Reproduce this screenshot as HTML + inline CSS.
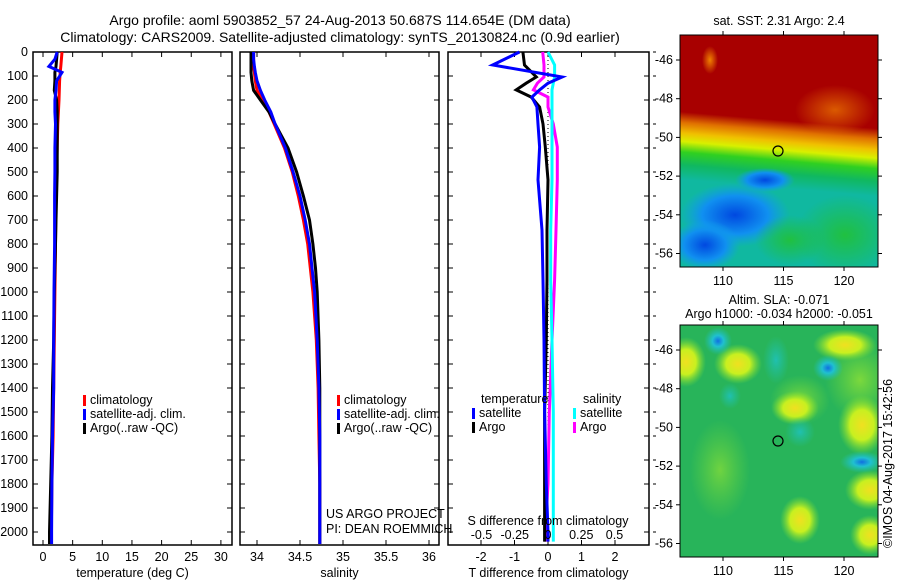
<!DOCTYPE html>
<html><head><meta charset="utf-8">
<style>
html,body{margin:0;padding:0;background:#fff;}
svg{display:block;font-family:"Liberation Sans",sans-serif;}
text{font-size:12.5px;fill:#000;}
</style></head>
<body>
<svg id="chart" width="900" height="580" viewBox="0 0 900 580">
<defs>
<linearGradient id="sstGrad" gradientUnits="userSpaceOnUse" x1="782" y1="40" x2="764" y2="250">
<stop offset="0" stop-color="#a80000"/>
<stop offset="0.38" stop-color="#a80000"/>
<stop offset="0.43" stop-color="#e07000"/>
<stop offset="0.48" stop-color="#f0c000"/>
<stop offset="0.52" stop-color="#d8f000"/>
<stop offset="0.57" stop-color="#30d020"/>
<stop offset="0.63" stop-color="#10b860"/>
<stop offset="0.70" stop-color="#10b8a0"/>
<stop offset="1" stop-color="#10b8a0"/>
</linearGradient>
<radialGradient id="blueBlob"><stop offset="0" stop-color="#0048e0"/><stop offset="0.6" stop-color="#1090f0"/><stop offset="1" stop-color="#10a0e8" stop-opacity="0"/></radialGradient>
<radialGradient id="greenBlob"><stop offset="0" stop-color="#20c040"/><stop offset="1" stop-color="#20c040" stop-opacity="0"/></radialGradient>
<radialGradient id="orBlob"><stop offset="0" stop-color="#f08000"/><stop offset="1" stop-color="#f08000" stop-opacity="0"/></radialGradient>
<radialGradient id="yelBlob"><stop offset="0" stop-color="#f0e020"/><stop offset="0.5" stop-color="#c8f020"/><stop offset="1" stop-color="#80e030" stop-opacity="0"/></radialGradient>
<radialGradient id="ygBlob"><stop offset="0" stop-color="#a0e830"/><stop offset="1" stop-color="#80e030" stop-opacity="0"/></radialGradient>
<radialGradient id="cyBlob"><stop offset="0" stop-color="#1070e0"/><stop offset="0.4" stop-color="#20c0d0"/><stop offset="1" stop-color="#20c0b0" stop-opacity="0"/></radialGradient>
<radialGradient id="tealBlob"><stop offset="0" stop-color="#20c0b0"/><stop offset="1" stop-color="#20c0a0" stop-opacity="0"/></radialGradient>
<clipPath id="clipTop"><rect x="680" y="35" width="198" height="232"/></clipPath>
<clipPath id="clipBot"><rect x="680" y="325" width="198" height="232"/></clipPath>
</defs>

<text x="340" y="25" text-anchor="middle" style="font-size:14px">Argo profile: aoml 5903852_57 24-Aug-2013 50.687S 114.654E (DM data)</text>
<text x="340" y="42" text-anchor="middle" style="font-size:14px">Climatology: CARS2009. Satellite-adjusted climatology: synTS_20130824.nc (0.9d earlier)</text>

<g id="panels"></g>

<g>
<text x="779" y="25" text-anchor="middle">sat. SST: 2.31 Argo: 2.4</text>
<g clip-path="url(#clipTop)">
<rect x="680" y="35" width="198" height="232" fill="url(#sstGrad)"/>
<ellipse cx="735" cy="215" rx="55" ry="32" fill="url(#blueBlob)"/>
<ellipse cx="705" cy="245" rx="35" ry="25" fill="url(#blueBlob)"/>
<ellipse cx="765" cy="180" rx="30" ry="12" fill="url(#blueBlob)"/>
<ellipse cx="845" cy="235" rx="50" ry="40" fill="url(#greenBlob)"/>
<ellipse cx="790" cy="240" rx="35" ry="25" fill="url(#greenBlob)"/>
<ellipse cx="835" cy="110" rx="40" ry="25" fill="url(#orBlob)" opacity="0.7"/>
<ellipse cx="710" cy="60" rx="8" ry="14" fill="url(#orBlob)"/>
</g>
<rect x="680" y="35" width="198" height="232" fill="none" stroke="#000"/>
<circle cx="778" cy="151" r="5" fill="none" stroke="#000" stroke-width="1.2"/>
</g>

<g>
<text x="779" y="304" text-anchor="middle">Altim. SLA: -0.071</text>
<text x="779" y="318" text-anchor="middle">Argo h1000: -0.034 h2000: -0.051</text>
<g clip-path="url(#clipBot)">
<rect x="680" y="325" width="198" height="232" fill="#28b45a"/>
<ellipse cx="720" cy="470" rx="30" ry="50" fill="url(#ygBlob)" opacity="0.6"/>
<ellipse cx="860" cy="380" rx="35" ry="40" fill="url(#ygBlob)" opacity="0.7"/>
<ellipse cx="800" cy="400" rx="30" ry="25" fill="url(#ygBlob)" opacity="0.7"/>
<ellipse cx="686" cy="362" rx="20" ry="25" fill="url(#yelBlob)"/>
<ellipse cx="738" cy="364" rx="24" ry="20" fill="url(#yelBlob)"/>
<ellipse cx="795" cy="408" rx="24" ry="17" fill="url(#yelBlob)"/>
<ellipse cx="862" cy="425" rx="24" ry="30" fill="url(#yelBlob)"/>
<ellipse cx="870" cy="490" rx="25" ry="20" fill="url(#yelBlob)"/>
<ellipse cx="800" cy="520" rx="20" ry="24" fill="url(#yelBlob)"/>
<ellipse cx="870" cy="535" rx="20" ry="20" fill="url(#yelBlob)"/>
<ellipse cx="845" cy="345" rx="32" ry="16" fill="url(#yelBlob)"/>
<ellipse cx="718" cy="341" rx="14" ry="14" fill="url(#cyBlob)"/>
<ellipse cx="776" cy="360" rx="13" ry="24" fill="url(#tealBlob)"/>
<ellipse cx="828" cy="368" rx="15" ry="13" fill="url(#cyBlob)"/>
<ellipse cx="730" cy="396" rx="11" ry="13" fill="url(#tealBlob)"/>
<ellipse cx="800" cy="432" rx="15" ry="15" fill="url(#tealBlob)"/>
<ellipse cx="862" cy="462" rx="22" ry="11" fill="url(#cyBlob)"/>
</g>
<rect x="680" y="325" width="198" height="232" fill="none" stroke="#000"/>
<circle cx="778" cy="441" r="5" fill="none" stroke="#000" stroke-width="1.2"/>
<text transform="translate(892,548) rotate(-90)">©IMOS 04-Aug-2017 15:42:56</text>
</g>
<g id="mapaxes"></g>
</svg>

<script>
const depthTicks = [0,100,200,300,400,500,600,700,800,900,1000,1100,1200,1300,1400,1500,1600,1700,1800,1900,2000];
const tempTicks = [0,5,10,15,20,25,30];
const salTicks = [34,34.5,35,35.5,36];
const tdiffTicks = [-2,-1,0,1,2];
const sdiffTickLabels = ["-0.5","-0.25","0","0.25","0.5"];
const sdiffTicks = [-0.5,-0.25,0,0.25,0.5];

const profDepth = [0,30,60,85,120,160,200,250,300,400,500,600,700,800,900,1000,1200,1400,1600,1800,2000,2050];
const tempClim = [3.2,3.1,3.0,2.9,2.8,2.75,2.7,2.6,2.5,2.4,2.3,2.2,2.15,2.1,2.05,2.0,1.9,1.8,1.7,1.5,1.4,1.35];
const tempSat  = [2.4,2.0,1.0,3.2,2.3,2.2,2.0,2.0,2.1,2.0,2.0,1.95,1.95,1.95,1.9,1.85,1.8,1.8,1.6,1.5,1.45,1.45];
const tempArgo = [2.4,2.3,2.2,2.0,2.0,1.9,2.3,2.4,2.4,2.4,2.4,2.3,2.2,2.1,2.0,1.9,1.8,1.6,1.5,1.3,1.1,1.1];
const salClim = [33.96,33.96,33.96,33.97,33.98,34.0,34.06,34.14,34.2,34.32,34.41,34.48,34.54,34.59,34.62,34.65,34.69,34.71,34.72,34.73,34.73,34.73];
const salSat  = [33.96,33.96,33.97,33.98,34.0,34.04,34.09,34.16,34.21,34.33,34.42,34.5,34.56,34.61,34.64,34.67,34.7,34.72,34.73,34.73,34.73,34.73];
const salArgo = [33.93,33.93,33.93,33.93,33.94,33.96,34.04,34.14,34.21,34.36,34.46,34.54,34.61,34.65,34.68,34.7,34.72,34.73,34.73,34.73,34.73,34.73];

const diffDepth = [0,54,104,130,158,188,229,300,396,533,742,950,1200,1500,1800,2000,2040];
const tdiffSat  = [-0.85,-1.65,0.42,0.0,-0.25,-0.48,-0.33,-0.3,-0.25,-0.3,-0.18,-0.15,-0.12,-0.1,-0.05,0.0,0.0];
const tdiffArgo = [-0.75,-0.7,-0.35,-0.65,-0.95,-0.5,-0.25,-0.15,-0.08,0.0,-0.03,-0.03,-0.05,-0.1,-0.1,-0.1,-0.1];
const sdiffSat  = [0.0,0.05,0.05,0.04,0.03,0.03,0.03,0.03,0.03,0.03,0.02,0.02,0.03,0.04,0.04,0.04,0.04];
const sdiffArgo = [-0.04,-0.03,-0.03,-0.08,-0.11,0.0,0.0,0.04,0.07,0.07,0.06,0.05,0.03,0.01,0.0,-0.02,-0.02];

const latTicks = [-46,-48,-50,-52,-54,-56];
const lonTicks = [110,115,120];

const NS = "http://www.w3.org/2000/svg";
const root = document.getElementById('panels');
function mk(tag, attrs, parent){
  const e = document.createElementNS(NS, tag);
  for (const k in attrs) e.setAttribute(k, attrs[k]);
  (parent||root).appendChild(e);
  return e;
}
const PY0 = 52, PY1 = 545;
const yOf = d => PY0 + d * 0.24;

function panel(name, x0, x1, xOf, ticks, tickLabels, axisTitle){
  const g = mk('g', {});
  
  
  const r = mk('rect', {x:x0, y:PY0, width:x1-x0, height:PY1-PY0, fill:'none', stroke:'#000', 'stroke-width':1.5}, g);
  
  
  ticks.forEach((t,i) => {
    const x = xOf(t);
    mk('line', {x1:x, x2:x, y1:PY1, y2:PY1-5, stroke:'#000'}, g);
    mk('line', {x1:x, x2:x, y1:PY0, y2:PY0+5, stroke:'#000'}, g);
    const tx = mk('text', {x:x, y:561, 'text-anchor':'middle'}, g);
    tx.textContent = tickLabels[i];
    
    
  });
  depthTicks.forEach(d => {
    mk('line', {x1:x0, x2:x0+5, y1:yOf(d), y2:yOf(d), stroke:'#000'}, g);
    mk('line', {x1:x1, x2:x1-5, y1:yOf(d), y2:yOf(d), stroke:'#000'}, g);
  });
  const at = mk('text', {x:(x0+x1)/2, y:577, 'text-anchor':'middle'}, g);
  at.textContent = axisTitle;
  
  
  return g;
}
function series(g, name, vals, depths, xOf, color){
  const pts = vals.map((v,i) => xOf(v).toFixed(1) + ',' + yOf(depths[i]).toFixed(1)).join(' ');
  const p = mk('polyline', {points:pts, fill:'none', stroke:color, 'stroke-width':3, 'stroke-linejoin':'miter'}, g);
  
  
}
function legend(g, name, x, y, color, label){
  const r = mk('rect', {x:x, y:y-9, width:3, height:11, fill:color}, g);
  
  
  const t = mk('text', {x:x+7, y:y}, g);
  t.textContent = label;
  
  
}

depthTicks.forEach(d => {
  const t = mk('text', {x:28, y:yOf(d)+4, 'text-anchor':'end'});
  t.textContent = d;
  
  
});

const xT = v => 43 + v * 5.93;
const g1 = panel('temperature-panel', 33, 232, xT, tempTicks, tempTicks.map(String), 'temperature (deg C)');
series(g1, 'temp-climatology-line', tempClim, profDepth, xT, '#ff0000');
series(g1, 'temp-argo-line', tempArgo, profDepth, xT, '#000000');
series(g1, 'temp-satellite-line', tempSat, profDepth, xT, '#0000ff');
legend(g1, 'legend-climatology', 83, 404, '#ff0000', 'climatology');
legend(g1, 'legend-satellite-adj', 83, 418, '#0000ff', 'satellite-adj. clim.');
legend(g1, 'legend-argo', 83, 432, '#000000', 'Argo(..raw -QC)');

const xS = v => 257 + (v - 34) * 86;
const g2 = panel('salinity-panel', 240, 439, xS, salTicks, salTicks.map(String), 'salinity');
series(g2, 'sal-climatology-line', salClim, profDepth, xS, '#ff0000');
series(g2, 'sal-argo-line', salArgo, profDepth, xS, '#000000');
series(g2, 'sal-satellite-line', salSat, profDepth, xS, '#0000ff');
legend(g2, 'legend-climatology-2', 337, 404, '#ff0000', 'climatology');
legend(g2, 'legend-satellite-adj-2', 337, 418, '#0000ff', 'satellite-adj. clim.');
legend(g2, 'legend-argo-2', 337, 432, '#000000', 'Argo(..raw -QC)');
const pr1 = mk('text', {x:326, y:518}, g2); pr1.textContent = 'US ARGO PROJECT';
 
const pr2 = mk('text', {x:326, y:533}, g2); pr2.textContent = 'PI: DEAN ROEMMICH';
 

const xD = v => 548 + v * 33.5;
const xSD = v => 548 + v * 133;
const g3 = panel('difference-panel', 448, 649, xD, tdiffTicks, tdiffTicks.map(String), 'T difference from climatology');
const zl = mk('line', {x1:548, x2:548, y1:PY0, y2:PY1, stroke:'#000', 'stroke-dasharray':'1,3'}, g3);
 
series(g3, 'sdiff-argo-line', sdiffArgo, diffDepth, xSD, '#ff00ff');
series(g3, 'sdiff-satellite-line', sdiffSat, diffDepth, xSD, '#00ffff');
series(g3, 'tdiff-argo-line', tdiffArgo, diffDepth, xD, '#000000');
series(g3, 'tdiff-satellite-line', tdiffSat, diffDepth, xD, '#0000ff');
sdiffTicks.forEach((t,i) => {
  const tx = mk('text', {x:xSD(t), y:539, 'text-anchor':'middle'}, g3);
  tx.textContent = sdiffTickLabels[i];
  
  
});
const st = mk('text', {x:548, y:525, 'text-anchor':'middle'}, g3);
st.textContent = 'S difference from climatology';
 
const lt = mk('text', {x:481, y:403}, g3); lt.textContent = 'temperature';
 
const ls = mk('text', {x:583, y:403}, g3); ls.textContent = 'salinity';
 
legend(g3, 'legend-t-satellite', 472, 417, '#0000ff', 'satellite');
legend(g3, 'legend-t-argo', 472, 431, '#000000', 'Argo');
legend(g3, 'legend-s-satellite', 573, 417, '#00ffff', 'satellite');
legend(g3, 'legend-s-argo', 573, 431, '#ff00ff', 'Argo');
depthTicks.forEach(d => {
  mk('line', {x1:653, x2:656, y1:yOf(d), y2:yOf(d), stroke:'#000'}, g3);
});

const ma = document.getElementById('mapaxes');
function mapAxes(name, y0, y1, latY0){
  const latY = l => latY0 + (-46 - l) * 19.35;
  const lonX = l => 723 + (l - 110) * 12.1;
  latTicks.forEach(l => {
    const y = latY(l);
    mk('line', {x1:680, x2:676, y1:y, y2:y, stroke:'#000'}, ma);
    mk('line', {x1:878, x2:882, y1:y, y2:y, stroke:'#000'}, ma);
    const t = mk('text', {x:673, y:y+4, 'text-anchor':'end'}, ma);
    t.textContent = l;
    
    
  });
  lonTicks.forEach(l => {
    const x = lonX(l);
    mk('line', {x1:x, x2:x, y1:y1, y2:y1+4, stroke:'#000'}, ma);
    mk('line', {x1:x, x2:x, y1:y0, y2:y0-4, stroke:'#000'}, ma);
    const t = mk('text', {x:x, y:y1+18, 'text-anchor':'middle'}, ma);
    t.textContent = l;
    
    
  });
}
mapAxes('sst-map', 35, 267, 60);
mapAxes('sla-map', 325, 557, 350);
</script>
</body></html>
